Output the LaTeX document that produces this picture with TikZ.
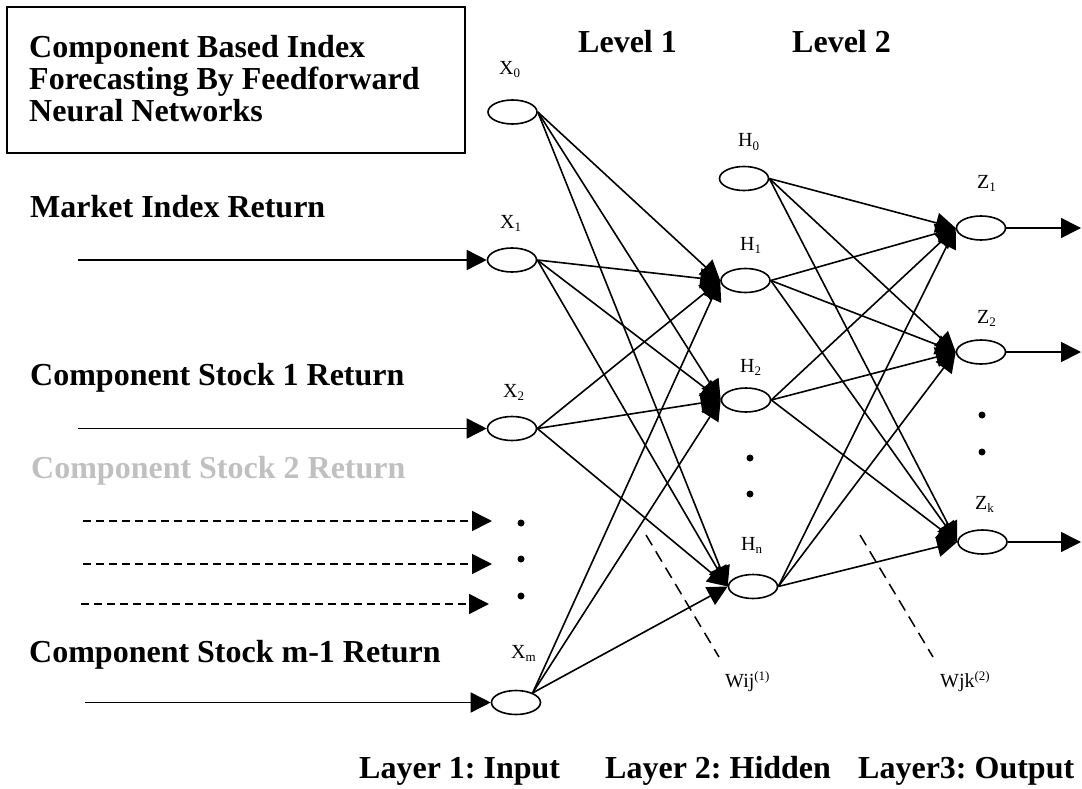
\documentclass[tikz,border=0pt]{standalone}
\usepackage{fontspec}
\setmainfont{Liberation Serif}
\usetikzlibrary{arrows.meta,shapes.geometric}
\definecolor{stockgray}{RGB}{192,192,192}
\newcommand{\lsub}[1]{\raisebox{-3pt}{\fontsize{13}{13}\selectfont #1}}
\newcommand{\lsup}[1]{\raisebox{7pt}{\fontsize{13}{13}\selectfont #1}}
\frenchspacing
\begin{document}
\begin{tikzpicture}[x=1pt,y=-1pt,
  neuron/.style={draw,ellipse,line width=1.6pt,minimum width=49pt,minimum height=24pt,inner sep=0pt},
  bigtext/.style={anchor=base west,inner sep=0pt,font=\fontsize{32}{32}\selectfont\bfseries},
  lab/.style={anchor=base west,inner sep=0pt,font=\fontsize{20}{20}\selectfont},
  conn/.style={line width=1.6pt,-{Triangle[length=20pt,width=20pt]}},
  indash/.style={line width=1.6pt,dash pattern=on 8pt off 5pt,-{Triangle[length=20pt,width=20pt]}},
  wdash/.style={line width=1.5pt,dash pattern=on 12pt off 7pt},
  dot/.style={circle,fill=black,inner sep=0pt,minimum size=7pt}]
\useasboundingbox (0,0) rectangle (1082,789);

% title box
\draw[line width=2pt] (7,7) rectangle (465,153);
\node[bigtext] (t1) at (29,58) {Component Based Index};
\node[bigtext] (t2) at (29,90) {Forecasting By Feedforward};
\node[bigtext] (t3) at (29,122) {Neural Networks};

\node[bigtext] (lv1) at (578,53) {Level 1};
\node[bigtext] (lv2) at (792,53) {Level 2};

% input texts
\node[bigtext] (in1) at (30,217) {Market Index Return};
\node[bigtext] (in2) at (30,385) {Component Stock 1 Return};
\node[bigtext,text=stockgray] (in3) at (31,478) {Component Stock 2 Return};
\node[bigtext] (in4) at (29,662) {Component Stock m-1 Return};

% neurons
\node[neuron] (X0) at (512.5,112) {};
\node[neuron] (X1) at (512,260) {};
\node[neuron] (X2) at (512,428.5) {};
\node[neuron] (Xm) at (516,702.5) {};
\node[neuron] (H0) at (744,178.5) {};
\node[neuron] (H1) at (745.5,280.5) {};
\node[neuron] (H2) at (746,400) {};
\node[neuron] (Hn) at (753,586.5) {};
\node[neuron] (Z1) at (981,228) {};
\node[neuron] (Z2) at (981,352) {};
\node[neuron] (Zk) at (982.5,542) {};

% neuron labels
\node[lab] (lX0) at (499,75) {X\lsub{0}};
\node[lab] (lX1) at (500,228) {X\lsub{1}};
\node[lab] (lX2) at (503,397) {X\lsub{2}};
\node[lab] (lXm) at (511,658) {X\lsub{m}};
\node[lab] (lH0) at (738,147) {H\lsub{0}};
\node[lab] (lH1) at (740,250) {H\lsub{1}};
\node[lab] (lH2) at (740,372) {H\lsub{2}};
\node[lab] (lHn) at (741,550) {H\lsub{n}};
\node[lab] (lZ1) at (977,189) {Z\lsub{1}};
\node[lab] (lZ2) at (977,323) {Z\lsub{2}};
\node[lab] (lZk) at (975,509) {Z\lsub{k}};
\node[lab] (w1) at (725,687) {Wij\lsup{(1)}};
\node[lab] (w2) at (940,687) {Wjk\lsup{(2)}};

% dots
\node[dot] (d1) at (521,523) {};
\node[dot] (d2) at (521,559) {};
\node[dot] (d3) at (521,596) {};
\node[dot] (d4) at (750,458) {};
\node[dot] (d5) at (750,494) {};
\node[dot] (d6) at (982,415) {};
\node[dot] (d7) at (982,452) {};

% input arrows
\coordinate (s1) at (78,260);
\coordinate (s2) at (78,428.5);
\coordinate (s3) at (85,702.5);
\draw[conn] (s1) -- (X1);
\draw[conn] (s2) -- (X2);
\draw[conn] (s3) -- (Xm);
\coordinate (a1) at (83,521); \coordinate (b1) at (492,521);
\coordinate (a2) at (83,564); \coordinate (b2) at (492,564);
\coordinate (a3) at (81,604); \coordinate (b3) at (489,604);
\draw[indash] (a1) -- (b1);
\draw[indash] (a2) -- (b2);
\draw[indash] (a3) -- (b3);

% input to hidden
\foreach \sa in {X0.east,X1.east,X2.east,Xm.30}{
  \foreach \t in {H1,H2,Hn}{
    \draw[conn] (\sa) -- (\t.west);
  }
}
% hidden to output
\foreach \s in {H0,H1,H2,Hn}{
  \foreach \t in {Z1,Z2,Zk}{
    \draw[conn] (\s.east) -- (\t.west);
  }
}
% outputs
\coordinate (o1) at (1081,228);
\coordinate (o2) at (1081,352);
\coordinate (o3) at (1081,542);
\draw[conn] (Z1) -- (o1);
\draw[conn] (Z2) -- (o2);
\draw[conn] (Zk) -- (o3);

% weight markers
\coordinate (wa1) at (646,535); \coordinate (wb1) at (719,657);
\coordinate (wa2) at (860,535); \coordinate (wb2) at (933,657);
\draw[wdash] (wa1) -- (wb1);
\draw[wdash] (wa2) -- (wb2);

% layer labels
\node[bigtext] (L1) at (359,778) {Layer 1: Input};
\node[bigtext] (L2) at (605,778) {Layer 2: Hidden};
\node[bigtext] (L3) at (858,778) {Layer3: Output};
\end{tikzpicture}
\end{document}
